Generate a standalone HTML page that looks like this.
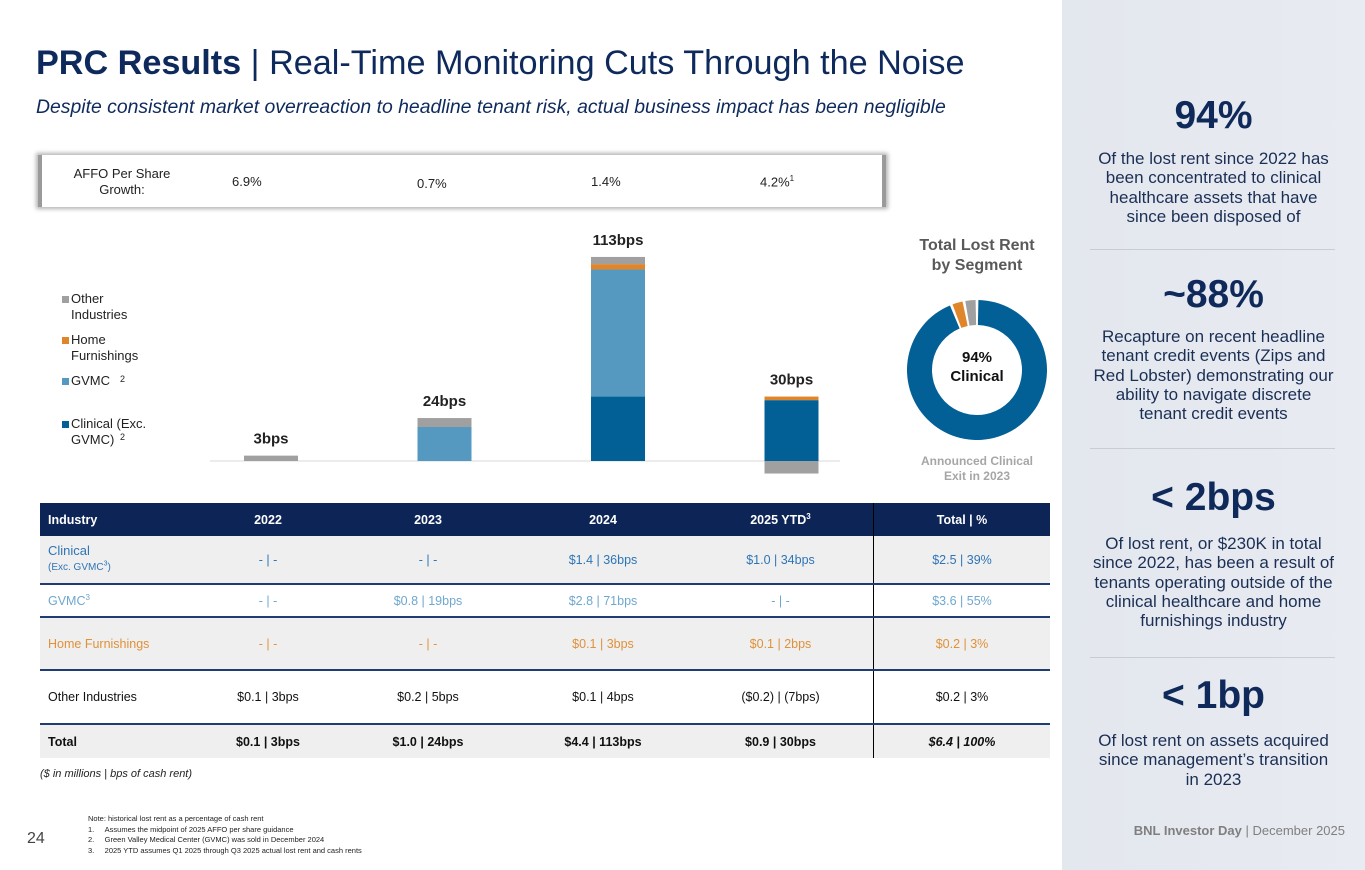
<!DOCTYPE html>
<html><head><meta charset="utf-8"><style>
body{margin:0;width:1365px;height:870px;position:relative;overflow:hidden;background:#fff;font-family:"Liberation Sans",Arial,sans-serif;}
.a{position:absolute;}
.navy{color:#0e2a5c;}
.rp{position:absolute;left:1062px;top:0;width:303px;height:870px;background:linear-gradient(90deg,#e3e7ee,#e8ebf1);}
.big{position:absolute;left:0;width:303px;text-align:center;font-weight:bold;color:#0f2a5a;font-size:39px;}
.desc{position:absolute;left:0;width:303px;text-align:center;color:#1b2f55;font-size:17px;line-height:19.3px;}
.sep{position:absolute;left:28px;width:245px;height:1px;background:#c8ccd3;}
table{border-collapse:collapse;}
td{text-align:center;font-size:12.5px;padding:0;}
</style></head><body>
<div class="a navy" style="left:36px;top:44px;font-size:34.2px;white-space:nowrap;"><b>PRC Results</b> | Real-Time Monitoring Cuts Through the Noise</div>
<div class="a navy" style="left:36px;top:96px;font-size:19.4px;font-style:italic;white-space:nowrap;">Despite consistent market overreaction to headline tenant risk, actual business impact has been negligible</div>

<div class="a" style="left:38px;top:155px;width:848px;height:52px;background:#fff;box-shadow:0 0 4px 2px #b5b5b5;border-left:4px solid #9a9a9a;border-right:4px solid #9a9a9a;box-sizing:border-box;font-size:13px;color:#222;">
<div class="a" style="left:30px;top:11px;width:100px;text-align:center;line-height:16px;">AFFO Per Share Growth:</div>
<div class="a" style="left:190px;top:19px;">6.9%</div>
<div class="a" style="left:375px;top:21px;">0.7%</div>
<div class="a" style="left:549px;top:19px;">1.4%</div>
<div class="a" style="left:718px;top:19px;">4.2%<sup style="font-size:8px">1</sup></div>
</div>

<svg class="a" style="left:0;top:0" width="1062" height="500" id="chart"></svg>

<div class="a" style="left:912px;top:236px;width:130px;text-align:center;font-weight:bold;color:#595959;font-size:16px;line-height:20px;">Total Lost Rent by Segment</div>
<div class="a" style="left:927px;top:348px;width:100px;text-align:center;font-weight:bold;color:#111;font-size:15px;line-height:19px;">94%<br>Clinical</div>
<div class="a" style="left:914px;top:454px;width:126px;text-align:center;font-weight:bold;color:#a6a6a6;font-size:12px;line-height:15px;">Announced Clinical Exit in 2023</div>

<table class="a" style="left:40px;top:503px;width:1010px;">
<tr style="background:#0d2456;color:#fff;height:33px;font-weight:bold;"><td style="text-align:left;padding-left:8px;width:150px">Industry</td><td style="width:140px">2022</td><td style="width:180px">2023</td><td style="width:170px">2024</td><td style="width:185px;border-right:1px solid #000">2025 YTD<sup style="font-size:8px">3</sup></td><td>Total | %</td></tr>
<tr style="background:#efefef;color:#2e75b6;height:48px;border-bottom:2px solid #1f3d73;"><td style="text-align:left;padding-left:8px;font-size:13px;line-height:14px">Clinical<br><span style="font-size:10px">(Exc. GVMC<sup style="font-size:7px">3</sup>)</span></td><td>- | -</td><td>- | -</td><td>$1.4 | 36bps</td><td style="border-right:1px solid #000">$1.0 | 34bps</td><td>$2.5 | 39%</td></tr>
<tr style="background:#fff;color:#6fa7cf;height:33px;border-bottom:2px solid #1f3d73;"><td style="text-align:left;padding-left:8px">GVMC<sup style="font-size:8px">3</sup></td><td>- | -</td><td>$0.8 | 19bps</td><td>$2.8 | 71bps</td><td style="border-right:1px solid #000">- | -</td><td>$3.6 | 55%</td></tr>
<tr style="background:#efefef;color:#e0913a;height:53px;border-bottom:2px solid #1f3d73;"><td style="text-align:left;padding-left:8px">Home Furnishings</td><td>- | -</td><td>- | -</td><td>$0.1 | 3bps</td><td style="border-right:1px solid #000">$0.1 | 2bps</td><td>$0.2 | 3%</td></tr>
<tr style="background:#fff;color:#111;height:54px;border-bottom:2px solid #1f3d73;"><td style="text-align:left;padding-left:8px">Other Industries</td><td>$0.1 | 3bps</td><td>$0.2 | 5bps</td><td>$0.1 | 4bps</td><td style="border-right:1px solid #000">($0.2) | (7bps)</td><td>$0.2 | 3%</td></tr>
<tr style="background:#efefef;color:#111;height:34px;font-weight:bold;"><td style="text-align:left;padding-left:8px">Total</td><td>$0.1 | 3bps</td><td>$1.0 | 24bps</td><td>$4.4 | 113bps</td><td style="border-right:1px solid #000">$0.9 | 30bps</td><td><i>$6.4 | 100%</i></td></tr>
</table>
<div class="a" style="left:40px;top:768px;font-size:11px;font-style:italic;color:#222;">($ in millions | bps of cash rent)</div>
<div class="a" style="left:88px;top:814px;font-size:7.5px;line-height:10.5px;color:#222;">Note: historical lost rent as a percentage of cash rent<br>1.&nbsp;&nbsp;&nbsp;&nbsp;&nbsp;Assumes the midpoint of 2025 AFFO per share guidance<br>2.&nbsp;&nbsp;&nbsp;&nbsp;&nbsp;Green Valley Medical Center (GVMC) was sold in December 2024<br>3.&nbsp;&nbsp;&nbsp;&nbsp;&nbsp;2025 YTD assumes Q1 2025 through Q3 2025 actual lost rent and cash rents</div>
<div class="a" style="left:27px;top:830px;font-size:16px;color:#444;">24</div>

<div class="rp">
<div class="big" style="top:94px;">94%</div>
<div class="desc" style="top:149px;">Of the lost rent since 2022 has<br>been concentrated to clinical<br>healthcare assets that have<br>since been disposed of</div>
<div class="sep" style="top:249px"></div>
<div class="big" style="top:273px;">~88%</div>
<div class="desc" style="top:327px;">Recapture on recent headline<br>tenant credit events (Zips and<br>Red Lobster) demonstrating our<br>ability to navigate discrete<br>tenant credit events</div>
<div class="sep" style="top:448px"></div>
<div class="big" style="top:476px;">&lt; 2bps</div>
<div class="desc" style="top:534px;">Of lost rent, or $230K in total<br>since 2022, has been a result of<br>tenants operating outside of the<br>clinical healthcare and home<br>furnishings industry</div>
<div class="sep" style="top:657px"></div>
<div class="big" style="top:674px;">&lt; 1bp</div>
<div class="desc" style="top:731px;">Of lost rent on assets acquired<br>since management’s transition<br>in 2023</div>
<div class="a" style="right:20px;top:823px;font-size:13px;color:#7f7f7f;"><b>BNL Investor Day</b> | December 2025</div>
</div>

<script>
const years=["2022","2023","2024","2025 YTD"];
const clinical=[0,0,36,34];
const gvmc=[0,19,71,0];
const home=[0,0,3,2];
const other=[3,5,4,-7];
const totals=["3bps","24bps","113bps","30bps"];
const donutShares=[94,3,3];
const NS="http://www.w3.org/2000/svg";
const svg=document.getElementById("chart");
const base=461, pxPer=1.79, x0=271, step=173.5, bw=54;
function y(v){return base-v*pxPer;}
function xc(i){return x0+i*step;}
function mk(tag,attrs){const e=document.createElementNS(NS,tag);for(const k in attrs)e.setAttribute(k,attrs[k]);svg.appendChild(e);return e;}
const ax=mk("line",{x1:210,x2:840,y1:base,y2:base,stroke:"#d9d9d9","stroke-width":1});


const series=[[clinical,"#036097","clinical"],[gvmc,"#5599c0","gvmc"],[home,"#e0862a","home-furnishings"],[other,"#a0a0a0","other-industries"]];
years.forEach((yr,i)=>{
 let pos=0,neg=0;
 series.forEach(([arr,col,nm])=>{
  const v=arr[i]; if(!v)return;
  let top,h;
  if(v>0){top=y(pos+v);h=v*pxPer;pos+=v;}else{top=y(neg);h=-v*pxPer;neg+=v;}
  const r=mk("rect",{x:xc(i)-bw/2,y:top,width:bw,height:h,fill:col});
  
  
 });
 const t=mk("text",{x:xc(i),y:y(pos)-12,"text-anchor":"middle","font-size":15,"font-weight":"bold",fill:"#222","font-family":"Liberation Sans, sans-serif"});
 t.textContent=totals[i];
 
 
});
const leg=[["Other","Industries","#a0a0a0",303],["Home","Furnishings","#e0862a",344],["GVMC","","#5599c0",385],["Clinical (Exc.","GVMC)","#036097",428]];
leg.forEach(([a,b,c,ly])=>{
 const s=mk("rect",{x:62,y:ly-7,width:7,height:7,fill:c});
 
 
 const t=mk("text",{x:71,y:ly,"font-size":13,fill:"#222","font-family":"Liberation Sans, sans-serif"});
 t.textContent=a;
 
 
 if(b){const t2=mk("text",{x:71,y:ly+16,"font-size":13,fill:"#222","font-family":"Liberation Sans, sans-serif"});t2.textContent=b;
 
 }
});
[[118,385],[118,443]].forEach(([sx,sy])=>{const s=mk("text",{x:sx+2,y:sy-3,"font-size":9,fill:"#222"});s.textContent="2";
 
 });
const cx=977,cy=370,R=70,r=45;const dcols=["#036097","#e0862a","#a0a0a0"];const dn=["clinical","home-furnishings","other"];
let acc=0;const tot=donutShares.reduce((a,b)=>a+b,0);
donutShares.forEach((v,i)=>{
 const a0=acc/tot*2*Math.PI+0.02,a1=(acc+v)/tot*2*Math.PI-0.02;acc+=v;
 const p=(rad,a)=>[cx+rad*Math.sin(a),cy-rad*Math.cos(a)];
 const large=(a1-a0)>Math.PI?1:0;
 const [x1,y1]=p(R,a0),[x2,y2]=p(R,a1),[x3,y3]=p(r,a1),[x4,y4]=p(r,a0);
 const path=mk("path",{d:`M${x1},${y1}A${R},${R} 0 ${large} 1 ${x2},${y2}L${x3},${y3}A${r},${r} 0 ${large} 0 ${x4},${y4}Z`,fill:dcols[i]});
 
 
});
</script>
</body></html>
